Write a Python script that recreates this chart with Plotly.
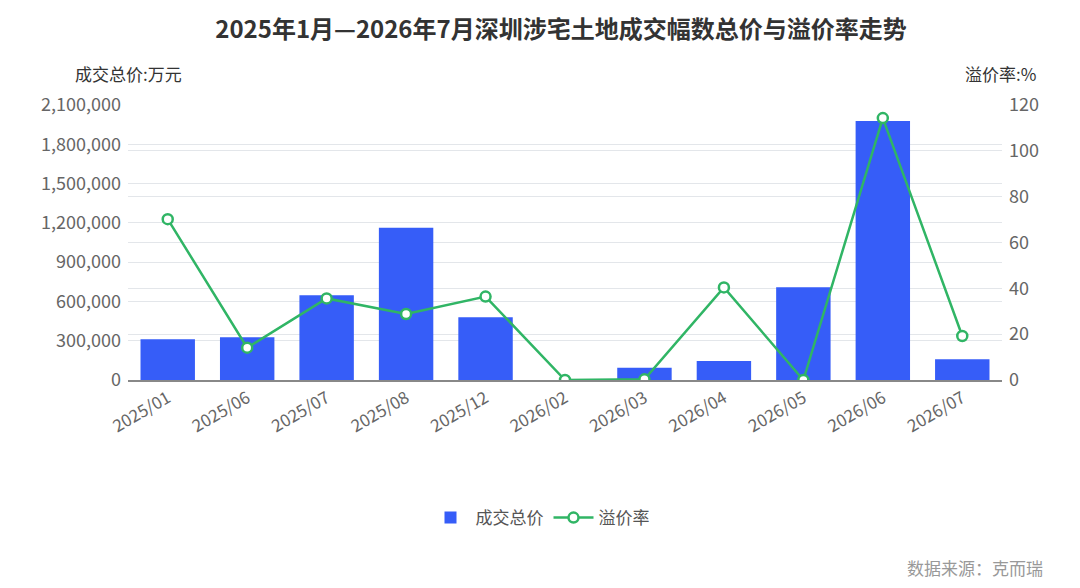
import plotly.graph_objects as go

categories = ["2025/01", "2025/06", "2025/07", "2025/08", "2025/12", "2026/02",
              "2026/03", "2026/04", "2026/05", "2026/06", "2026/07"]
total_price = [311000, 326000, 647000, 1163000, 479000, 0,
               94000, 145000, 708000, 1978000, 158000]
premium_rate = [70.2, 14.1, 35.6, 28.8, 36.4, 0.0,
                0.3, 40.4, 0.0, 114.3, 19.2]
left_ticks = [0, 300000, 600000, 900000, 1200000, 1500000, 1800000, 2100000]
right_ticks = [0, 20, 40, 60, 80, 100, 120]

FONT = "Noto Sans CJK SC, Noto Sans, sans-serif"
BLUE = "#365DF8"
GREEN = "#30B565"

fig = go.Figure()
fig.add_trace(go.Bar(
    x=categories, y=total_price, name="成交总价",
    marker=dict(color=BLUE, line=dict(width=0)), width=0.685, yaxis="y",
))
fig.add_trace(go.Scatter(
    x=categories, y=premium_rate, name="溢价率", mode="lines+markers",
    line=dict(color=GREEN, width=2.5),
    marker=dict(size=10, color="white", line=dict(color=GREEN, width=2.5)),
    yaxis="y2",
))

fig.update_layout(
    width=1080, height=588,
    margin=dict(l=128, r=78, t=105, b=208, autoexpand=False),
    paper_bgcolor="white", plot_bgcolor="white",
    font=dict(family=FONT, size=17, color="#555"),
    title=dict(
        text="<b>2025年1月—2026年7月深圳涉宅土地成交幅数总价与溢价率走势</b>",
        font=dict(family=FONT, size=24, color="#333"),
        x=561 / 1080, xref="container", xanchor="center",
        y=1 - 30 / 588, yref="container", yanchor="middle",
    ),
    xaxis=dict(
        type="category", tickangle=-30, showgrid=False, automargin=False,
        range=[-0.5, len(categories) - 0.5],
        showline=True, linecolor="#888", linewidth=1.5,
        ticks="", tickfont=dict(size=17, color="#666"),
    ),
    yaxis=dict(
        range=[0, 2100000], tickvals=left_ticks, automargin=False,
        tickformat=",d", showgrid=True, gridcolor="#E3E6EA", gridwidth=1,
        zeroline=False, showline=False, ticks="", ticklabelstandoff=6,
        tickfont=dict(size=18, color="#666"),
    ),
    yaxis2=dict(
        range=[0, 120], tickvals=right_ticks, overlaying="y", side="right",
        showgrid=True, gridcolor="#E3E6EA", gridwidth=1, automargin=False,
        zeroline=False, showline=False, ticks="", ticklabelstandoff=6,
        tickfont=dict(size=18, color="#666"),
    ),
    legend=dict(
        orientation="h", xref="container", x=0.5, xanchor="center",
        y=-0.502, yanchor="middle",
        font=dict(size=17, color="#555"), itemwidth=40,
    ),
    annotations=[
        dict(text="成交总价:万元", xref="paper", yref="paper", x=-0.063, y=1.116,
             xanchor="left", yanchor="middle", showarrow=False,
             font=dict(size=17, color="#333")),
        dict(text="溢价率:%", xref="paper", yref="paper", x=1.041, y=1.116,
             xanchor="right", yanchor="middle", showarrow=False,
             font=dict(size=17, color="#333")),
        dict(text="数据来源：克而瑞", xref="paper", yref="paper", x=1.0495,
             y=-0.68, xanchor="right", yanchor="middle", showarrow=False,
             font=dict(size=17, color="#999")),
    ],
)

fig.write_html("out.html", config={"displayModeBar": False},
               post_script="document.body.style.margin='0';")
